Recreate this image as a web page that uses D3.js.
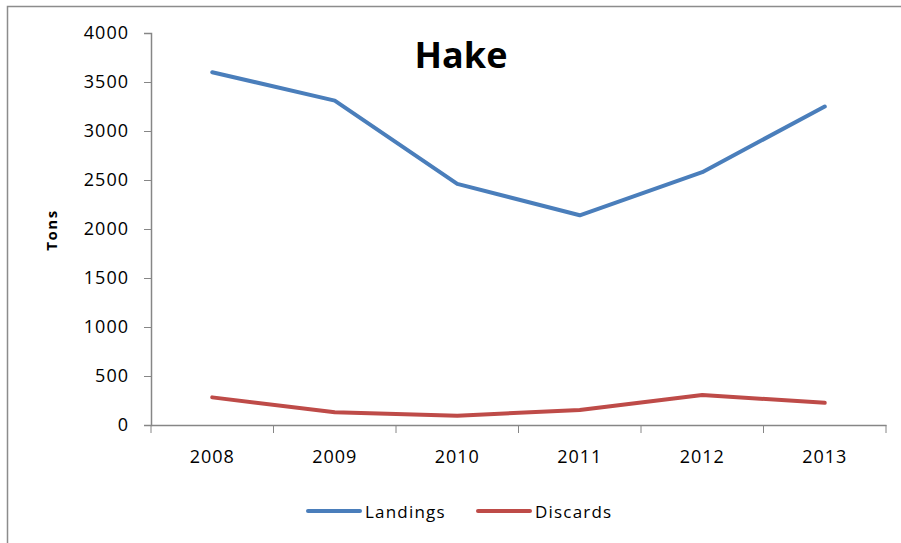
<!DOCTYPE html>
<html>
<head>
<meta charset="utf-8">
<script src="https://cdn.jsdelivr.net/npm/d3@7"></script>
<style>
  body { margin: 0; background: #fff; }
  text { font-family: "Open Sans", "Liberation Sans", sans-serif; fill: #000; }
</style>
</head>
<body>
<div id="chart"></div>
<script>
// chart data
var years = ["2008", "2009", "2010", "2011", "2012", "2013"];
var landings = [3600, 3310, 2460, 2140, 2580, 3250];
var discards = [282, 130, 95, 153, 306, 227];
var yTicks = [0, 500, 1000, 1500, 2000, 2500, 3000, 3500, 4000];

var svgWidth = 901;
var svgHeight = 543;

var margin = { top: 33, right: 15, bottom: 118, left: 151 };
var width = svgWidth - margin.left - margin.right;
var height = svgHeight - margin.top - margin.bottom;

var svg = d3.select("#chart")
    .append("svg")
    .attr("width", svgWidth)
    .attr("height", svgHeight);

// outer frame
svg.append("rect")
    .attr("x", 7.5).attr("y", 6.5)
    .attr("width", 900).attr("height", 600)
    .attr("fill", "none")
    .attr("stroke", "#8c8c8c")
    .attr("stroke-width", 1.5);

var chartGroup = svg.append("g")
    .attr("transform", `translate(${margin.left}, ${margin.top})`);

var xScale = d3.scaleBand().domain(years).range([0, width]);
var yScale = d3.scaleLinear().domain([0, 4000]).range([height, 0]);

// y axis
var leftAxis = d3.axisLeft(yScale).tickValues(yTicks).tickFormat(d3.format("d"))
    .tickSize(7).tickPadding(15);
var yAxis = chartGroup.append("g").call(leftAxis);
yAxis.selectAll("text")
    .style("font-size", "18px")
    .style("letter-spacing", "1px")
    .attr("fill", "#000");

// x axis with ticks between categories
var bottomAxis = d3.axisBottom(xScale).tickSize(0).tickPadding(25);
var xAxis = chartGroup.append("g")
    .attr("transform", `translate(0, ${height})`)
    .call(bottomAxis);
xAxis.selectAll("text")
    .style("font-size", "18px")
    .style("letter-spacing", "1px")
    .attr("fill", "#000");
xAxis.selectAll(".sep")
    .data(d3.range(years.length + 1))
    .enter().append("line")
    .attr("x1", function (i) { return i * xScale.step(); })
    .attr("x2", function (i) { return i * xScale.step(); })
    .attr("y1", 0).attr("y2", 8)
    .attr("stroke", "#868686");

svg.selectAll(".domain").attr("stroke", "#868686").attr("stroke-width", 1.5);
yAxis.selectAll(".tick line").attr("stroke", "#868686");

var line = d3.line()
    .x(function (d, i) { return xScale(years[i]) + xScale.bandwidth() / 2; })
    .y(function (d) { return yScale(d); });

var series = [
    { name: "Landings", values: landings, color: "#4a7ebb" },
    { name: "Discards", values: discards, color: "#be4b48" }
];

series.forEach(function (s) {
    chartGroup.append("path")
        .datum(s.values)
        .attr("d", line)
        .attr("fill", "none")
        .attr("stroke", s.color)
        .attr("stroke-width", 4)
        .attr("stroke-linejoin", "round")
        .attr("stroke-linecap", "round");
});

// title
svg.append("text")
    .attr("x", 461).attr("y", 68)
    .style("text-anchor", "middle")
    .style("font-size", "36px")
    .style("font-weight", "bold")
    .text("Hake");

// y axis label
svg.append("text")
    .attr("transform", "translate(57, 230) rotate(-90)")
    .style("text-anchor", "middle")
    .style("font-size", "15px")
    .style("letter-spacing", "1.5px")
    .style("font-weight", "bold")
    .text("Tons");

// legend
var legendX = [308, 478];
series.forEach(function (s, i) {
    var g = svg.append("g").attr("transform", `translate(${legendX[i]}, 511)`);
    g.append("line")
        .attr("x1", 0).attr("x2", 52)
        .attr("stroke", s.color)
        .attr("stroke-width", 4)
        .attr("stroke-linecap", "round");
    g.append("text")
        .attr("x", 57).attr("y", 7)
        .style("font-size", "17px")
        .style("letter-spacing", "1.2px")
        .text(s.name);
});
</script>
</body>
</html>
